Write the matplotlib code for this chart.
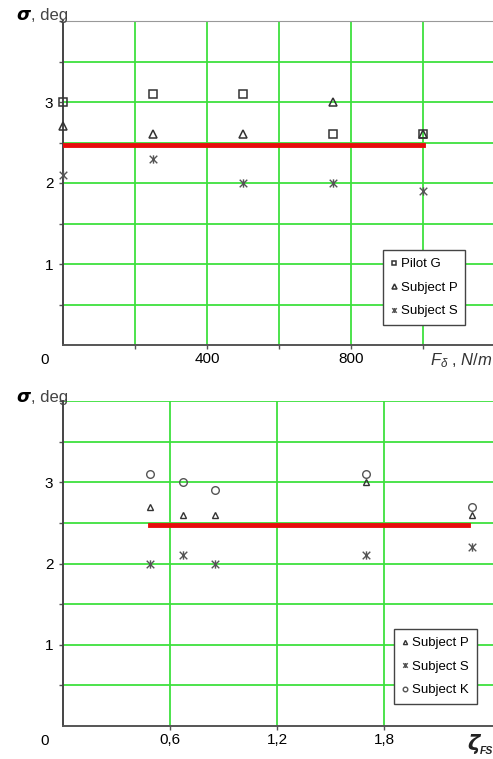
import matplotlib.pyplot as plt
from matplotlib.path import Path

plt.rcParams['font.family'] = ['Liberation Sans', 'DejaVu Sans']
plt.rcParams['mathtext.fontset'] = 'custom'
plt.rcParams['mathtext.rm'] = 'Liberation Sans'
plt.rcParams['mathtext.it'] = 'Liberation Sans:italic'

# top chart: sigma vs stick force gradient
f_grad = [0, 250, 500, 750, 1000]
pilot_g = [3.0, 3.1, 3.1, 2.6, 2.6]
subj_p_top = [2.7, 2.6, 2.6, 3.0, 2.6]
subj_s_top = [2.1, 2.3, 2.0, 2.0, 1.9]
ref_top_x = [0, 1000]
ref_level = 2.47

# bottom chart: sigma vs damping ratio
zeta_fs = [0.49, 0.67, 0.85, 1.70, 2.29]
subj_p_bot = [2.7, 2.6, 2.6, 3.0, 2.6]
subj_s_bot = [2.0, 2.1, 2.0, 2.1, 2.2]
subj_k_bot = [3.1, 3.0, 2.9, 3.1, 2.7]
ref_bot_x = [0.49, 2.27]

GREEN = '#3ee03e'
MK = '#333333'

# x with a vertical bar, like the "Zh" marker of the original
zh = Path([(-1, -1), (1, 1), (-1, 1), (1, -1), (0, -1.1), (0, 1.1)],
          [Path.MOVETO, Path.LINETO, Path.MOVETO, Path.LINETO, Path.MOVETO, Path.LINETO])

fig = plt.figure(figsize=(4.93, 7.59), dpi=100)
W, H = 493, 759
ax1 = fig.add_axes([63 / W, 1 - 345 / H, 430 / W, 324 / H])
ax2 = fig.add_axes([63 / W, 1 - 726 / H, 430 / W, 325 / H])


def style(ax, xlim, xmajor, xlabels):
    ax.set_xlim(*xlim)
    ax.set_ylim(0, 4)
    ax.set_yticks([1, 2, 3])
    ax.set_yticks([0.5, 1.5, 2.5, 3.5, 4], minor=True)
    ax.set_xticks(xmajor)
    ax.set_xticklabels(xlabels)
    ax.grid(True, which='both', color=GREEN, lw=1.3, zorder=0)
    ax.set_axisbelow(True)
    ax.tick_params(axis='both', which='both', length=3, width=1, color='#555555',
                   labelsize=11, pad=4)
    ax.tick_params(axis='x', pad=2)
    for s in ['right', 'top']:
        ax.spines[s].set_visible(False)
    ax.spines['left'].set_color('#444444')
    ax.spines['bottom'].set_color('#555555')
    ax.spines['left'].set_linewidth(1.4)
    ax.spines['bottom'].set_linewidth(1.4)
    ax.text(-0.042, -0.025, '0', transform=ax.transAxes, fontsize=11,
            ha='center', va='top')


def add_legend(ax, anchor):
    leg = ax.legend(loc='upper left', bbox_to_anchor=anchor, fontsize=9.5,
                    markerscale=0.6, handlelength=0.5, handletextpad=0.25,
                    borderpad=0.6, labelspacing=0.85, fancybox=False,
                    framealpha=1, edgecolor='#444444', borderaxespad=0)
    leg.get_frame().set_linewidth(1.0)
    return leg


# ---- top chart
style(ax1, (0, 1195), [200, 400, 600, 800, 1000], ['', '400', '', '800', ''])
ax1.spines['top'].set_visible(True)
ax1.spines['top'].set_color('#999999')
ax1.plot(ref_top_x, [ref_level, ref_level], color='#e80c0c', lw=3.5, zorder=3)
ax1.plot(f_grad, pilot_g, ls='none', marker='s', ms=5.5, mfc='none', mec=MK,
         mew=1.1, label='Pilot G', zorder=4, clip_on=False)
ax1.plot(f_grad, subj_p_top, ls='none', marker='^', ms=6, mfc='none', mec=MK,
         mew=1.1, label='Subject P', zorder=4, clip_on=False)
ax1.plot(f_grad, subj_s_top, ls='none', marker=zh, ms=6, mfc='none', mec='#555555',
         mew=1.0, label='Subject S', zorder=4, clip_on=False)
add_legend(ax1, (0.744, 0.293))
ax1.text(1.0, -0.02, r'$F_\delta$ , $N/m$', transform=ax1.transAxes,
         fontsize=12, ha='right', va='top', color='#333333')

# ---- bottom chart
style(ax2, (0, 2.41), [0.6, 1.2, 1.8], ['0,6', '1,2', '1,8'])
ax2.plot(ref_bot_x, [ref_level, ref_level], color='#e80c0c', lw=3.5, zorder=3)
ax2.plot(zeta_fs, subj_p_bot, ls='none', marker='^', ms=5, mfc='none', mec=MK,
         mew=1.0, label='Subject P', zorder=4)
ax2.plot(zeta_fs, subj_s_bot, ls='none', marker=zh, ms=6, mfc='none', mec='#555555',
         mew=1.0, label='Subject S', zorder=4)
ax2.plot(zeta_fs, subj_k_bot, ls='none', marker='o', ms=5.5, mfc='none', mec='#555555',
         mew=1.0, label='Subject K', zorder=4)
add_legend(ax2, (0.77, 0.298))

# axis titles
for ytop in (20, 402):
    fig.text(16 / W, 1 - ytop / H, '\u03c3', fontsize=13, fontweight='bold',
             fontstyle='italic', va='baseline', family='DejaVu Sans')
    fig.text(31 / W, 1 - ytop / H, ', deg', fontsize=12, va='baseline',
             color='#444444')
fig.text(467 / W, 1 - 750 / H, '\u03b6', fontsize=15, fontweight='bold',
         fontstyle='italic', va='baseline', family='DejaVu Sans', color='#222222')
fig.text(480 / W, 1 - 754 / H, 'FS', fontsize=7.5, fontweight='bold',
         fontstyle='italic', va='baseline', color='#222222')

fig.savefig('out.png', dpi=100)
